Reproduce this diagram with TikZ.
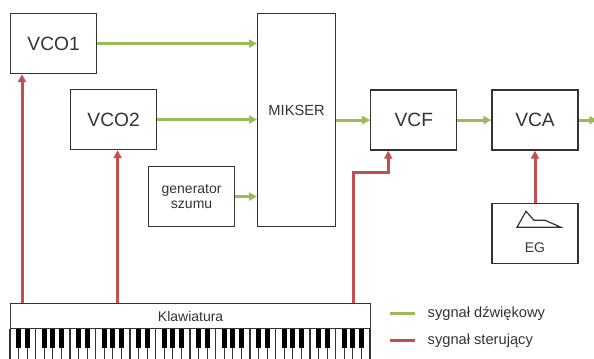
\documentclass[tikz,border=0pt]{standalone}
\usepackage{fontspec}
\setmainfont{Liberation Sans}
\usetikzlibrary{arrows.meta,positioning}
\definecolor{audio}{HTML}{9BBB59}
\definecolor{ctrl}{HTML}{C0504D}
\definecolor{ink}{HTML}{333333}

\begin{document}
\begin{tikzpicture}[x=0.75pt,y=-0.75pt,>={Triangle[length=6pt,width=6pt]},node distance=25.5pt,
    blok/.style={draw=ink,line width=0.9pt,inner sep=0pt,minimum width=64.5pt,minimum height=45pt,text=ink},
    sig/.style={audio,line width=2.25pt},
    ster/.style={ctrl,line width=2.25pt}]
    \useasboundingbox (0,0) rectangle (594,359);
    \node[blok,font=\Large,anchor=north west] (vco1) at (10,13) {VCO1};
    \node[blok,font=\Large,anchor=north west] (vco2) at (70,89) {VCO2};
    \node[blok,font=\fontsize{10.5}{11}\selectfont,align=center,anchor=north west] (gen) at (148,166) {generator\\szumu};
    \node[blok,font=\fontsize{11}{13}\selectfont,minimum width=58.5pt,minimum height=159.75pt,text depth=14pt,anchor=north west] (mix) at (257,13) {MIKSER};
    \node[blok,font=\Large,right=of mix] (vcf) {VCF};
    \node[blok,font=\Large,right=of vcf] (vca) {VCA};
    \node[blok,font=\fontsize{10.5}{12}\selectfont,text height=28.5pt,below=39pt of vca] (eg) {EG};
    \node[blok,font=\fontsize{10.5}{12}\selectfont,minimum width=270pt,minimum height=18.75pt,anchor=north west] (kb) at (10,303) {Klawiatura};
    \coordinate[right=14pt of vca.east] (out);
    % obwiednia
    \draw[ink,line width=0.9pt,shift={(eg.center)}] (-18,-6) -- (-9,-22) -- (-1,-13) -- (10,-13) -- (26,-6) -- cycle;
    % klawisze
    \begin{scope}[shift={(kb.south west)},ink,line width=0.9pt]
      \draw (0,0) -- (0,31) (360,0) -- (360,31);
      \foreach \i in {1,...,41} \draw (\i*60/7,0) -- (\i*60/7,31);
      \foreach \o in {0,...,5}
        \foreach \k in {1,2,4,5,6}
          \fill[black] (\o*60+\k*60/7-2.6,0) rectangle (\o*60+\k*60/7+2.6,19);
    \end{scope}
    % sygnal dzwiekowy
    \draw[sig,->] (vco1.east) -- (vco1.east -| mix.west);
    \draw[sig,->] (vco2.east) -- (vco2.east -| mix.west);
    \draw[sig,->] (gen.east) -- (gen.east -| mix.west);
    \draw[sig,->] (mix.east |- vcf.west) -- (vcf.west);
    \draw[sig,->] (vcf) -- (vca);
    \draw[sig,->] (vca) -- (out);
    % sygnal sterujacy
    \draw[ster,->] ([xshift=9pt]vco1.south west |- kb.north) -- ([xshift=9pt]vco1.south west);
    \draw[ster,->] ([xshift=3pt]vco2.south |- kb.north) -- ([xshift=3pt]vco2.south);
    \draw[ster,->] ([xshift=-13.5pt]kb.north east) -- ++(0,-130) -| ([xshift=13.5pt]vcf.south west);
    \draw[ster,->] (eg) -- (vca);
    % legenda
    \node[anchor=west,text=ink,font=\fontsize{11}{13}\selectfont] (lg1) at (423,314) {sygnał dźwiękowy};
    \node[anchor=west,text=ink,font=\fontsize{11}{13}\selectfont] (lg2) at (423,341) {sygnał sterujący};
    \draw[sig] (lg1.west) ++(-33,0) -- ++(25,0);
    \draw[ster] (lg2.west) ++(-33,0) -- ++(25,0);
\end{tikzpicture}
\end{document}
